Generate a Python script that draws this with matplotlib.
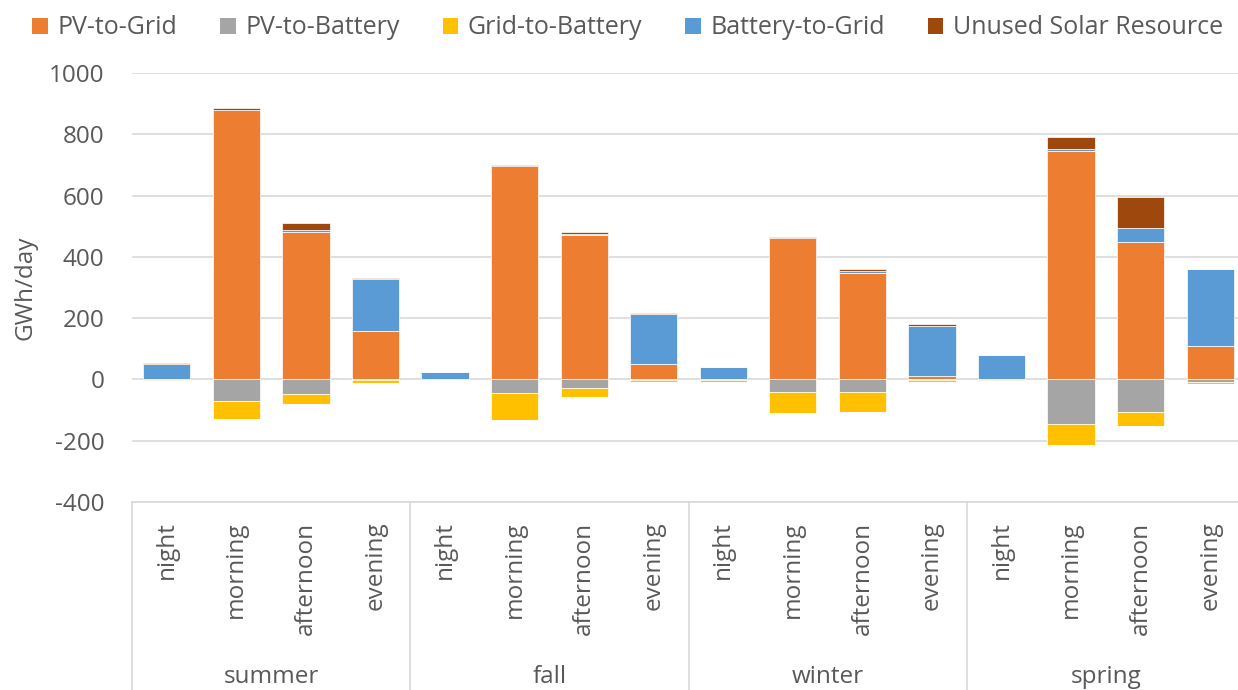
import numpy as np
import matplotlib.pyplot as plt
from matplotlib.patches import Patch

plt.rcParams['font.family'] = ['Open Sans', 'DejaVu Sans']
plt.rcParams['axes.unicode_minus'] = False

#-----------Data-------------

seasons = ['summer', 'fall', 'winter', 'spring']
periods = ['night', 'morning', 'afternoon', 'evening']

series_names = ['PV-to-Grid', 'PV-to-Battery', 'Grid-to-Battery',
                'Battery-to-Grid', 'Unused Solar Resource']
colors = ['#ED7D31', '#A5A5A5', '#FFC000', '#5B9BD5', '#9E480E']

# GWh/day, 16 bars: summer, fall, winter, spring x night, morning, afternoon, evening
pv_to_grid      = [-3, 879, 481, 158,   0, 696, 470,  50,   0, 461, 347,  12,   0, 746, 448, 110]
pv_to_battery   = [ 0, -70, -49,  -3,  -2, -44, -27,  -2,  -3, -42, -42,  -2,  -2, -144, -107, -10]
grid_to_battery = [-3, -59, -32,  -8,  -1, -87, -30,  -5,  -4, -69, -63,  -5,  -3, -69, -46,  -6]
battery_to_grid = [50,   0,   6, 170,  24,   0,   6, 163,  41,   0,   6, 162,  79,   7,  47, 249]
unused_solar    = [ 5,   6,  24,   3,   0,   3,   4,   5,   0,   4,   6,   6,   0,  38, 101,   3]

series = [pv_to_grid, pv_to_battery, grid_to_battery, battery_to_grid, unused_solar]

#-----------Figure-------------

fig = plt.figure(figsize=(12.38, 6.9), dpi=100)
ax = fig.add_axes([132 / 1238, 1 - 502 / 690, 1113 / 1238, 429 / 690])

x = np.arange(len(seasons) * len(periods))
pos_base = np.zeros(len(x))
neg_base = np.zeros(len(x))

for vals, col in zip(series, colors):
    vals = np.array(vals, dtype=float)
    pos = np.where(vals > 0, vals, 0)
    neg = np.where(vals < 0, vals, 0)
    ax.bar(x, pos, 0.68, bottom=pos_base, color=col, edgecolor='white', linewidth=0.5, zorder=3)
    ax.bar(x, neg, 0.68, bottom=neg_base, color=col, edgecolor='white', linewidth=0.5, zorder=3)
    pos_base += pos
    neg_base += neg

#-----------Axes styling-------------

ax.set_xlim(-0.5, len(x) - 0.5)
ax.set_ylim(-400, 1000)
ax.set_yticks(np.arange(-400, 1001, 200))
ax.yaxis.grid(True, color='#D9D9D9', linewidth=1.2, zorder=0)
ax.set_axisbelow(True)
for s in ['top', 'right', 'left']:
    ax.spines[s].set_visible(False)
ax.spines['bottom'].set_color('#D9D9D9')
ax.spines['bottom'].set_linewidth(1.2)

ax.tick_params(axis='y', length=0, pad=20, labelsize=17.5, labelcolor='#595959')
ax.set_xticks(x)
ax.set_xticklabels(periods * len(seasons), rotation=90, va='top', ha='center')
ax.tick_params(axis='x', length=0, pad=14, labelsize=17.5, labelcolor='#595959')

ax.set_ylabel('GWh/day', fontsize=17.5, color='#595959', labelpad=8)

# season group labels and separators
trans = ax.get_xaxis_transform()
n = len(periods)
for i, s in enumerate(seasons):
    ax.text(i * n + (n - 1) / 2, -175 / 429, s, transform=trans, ha='center', va='center',
            fontsize=17.5, color='#595959')
for i in range(len(seasons) + 1):
    ax.plot([i * n - 0.5, i * n - 0.5], [0, -0.45], transform=trans, color='#D9D9D9',
            linewidth=1.2, clip_on=False)

#-----------Legend-------------

handles = [Patch(facecolor=c, label=l) for c, l in zip(colors, series_names)]
fig.legend(handles=handles, loc='center', bbox_to_anchor=(627.5 / 1238, 1 - 28 / 690),
           ncol=5, frameon=False, fontsize=18, handlelength=0.62, handleheight=0.62,
           handletextpad=0.38, columnspacing=1.72, labelcolor='#595959')

fig.savefig('out.png', dpi=100)
